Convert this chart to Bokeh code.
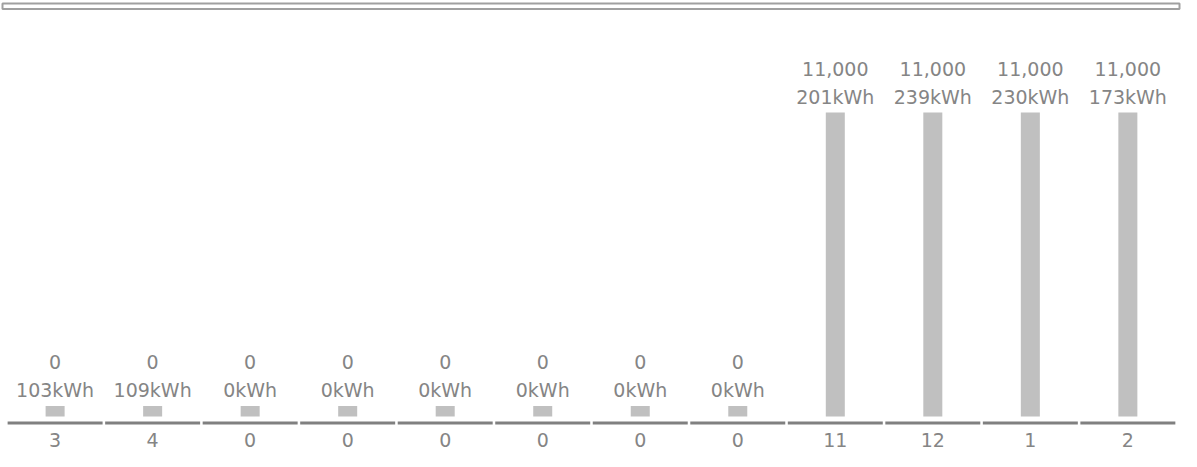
from bokeh.plotting import figure
from bokeh.models import Range1d, ColumnDataSource, BoxAnnotation
from bokeh.core.properties import value
from bokeh.embed import file_html
from bokeh.resources import INLINE
import numpy as np

# ---- data ----
month_labels = ["3", "4", "0", "0", "0", "0", "0", "0", "11", "12", "1", "2"]
amounts = [0, 0, 0, 0, 0, 0, 0, 0, 11000, 11000, 11000, 11000]
kwh = [103, 109, 0, 0, 0, 0, 0, 0, 201, 239, 230, 173]

# ---- geometry / style ----
W, H = 1181, 451
n = len(month_labels)
xs = np.arange(n)
base_px, top_px = 416.0, 112.0           # screen rows of value 0 and 11,000
upp = 11000 / (base_px - top_px)         # data units per screen pixel
ymax = 11000 + top_px * upp
ymin = -(H - base_px) * upp
stub = 10.5 * upp                        # minimal visible bar height
x_lo, x_hi = -0.56, n - 0.45
xpp = (x_hi - x_lo) / W                  # x data units per pixel

bar_top = np.maximum(np.array(amounts, dtype=float), stub)
amount_text = [f"{a:,}" for a in amounts]
kwh_text = [f"{k}kWh" for k in kwh]

src = ColumnDataSource(dict(
    x=xs, top=bar_top,
    amt=amount_text, kwh=kwh_text, lab=month_labels,
    y_kwh=bar_top + 16 * upp,
    y_amt=bar_top + 44 * upp,
    y_lab=np.full(n, -23.5 * upp),
    x0=xs - 0.5 + 0.013, x1=xs + 0.5 - 0.013,
    y_seg=np.full(n, -6.5 * upp),
))

p = figure(width=W, height=H, output_backend="svg", toolbar_location=None,
           x_range=Range1d(x_lo, x_hi), y_range=Range1d(ymin, ymax),
           min_border=0, outline_line_color=None, background_fill_color="white",
           border_fill_color="white")
p.xaxis.visible = False
p.yaxis.visible = False
p.xgrid.visible = False
p.ygrid.visible = False

p.vbar(x="x", top="top", bottom=0, width=0.195, source=src,
       fill_color="#c0c0c0", line_color=None)

p.segment(x0="x0", x1="x1", y0="y_seg", y1="y_seg", source=src,
          line_color="#808080", line_width=3)

font = value("DejaVu Sans")
txt_color = "#858585"
for col, ycol in (("kwh", "y_kwh"), ("amt", "y_amt"), ("lab", "y_lab")):
    p.text(x="x", y=ycol, text=col, source=src, text_font=font,
           text_font_size="19px", text_color=txt_color,
           text_align="center", text_baseline="middle")

box = BoxAnnotation(left=x_lo + 2 * xpp, right=x_hi - 2 * xpp,
                    top=ymax - 3 * upp, bottom=ymax - 8.5 * upp,
                    fill_alpha=0, line_color="#a0a0a0", line_alpha=1.0,
                    line_width=2)
p.add_layout(box)

open("out.html", "w").write(file_html(p, INLINE))
